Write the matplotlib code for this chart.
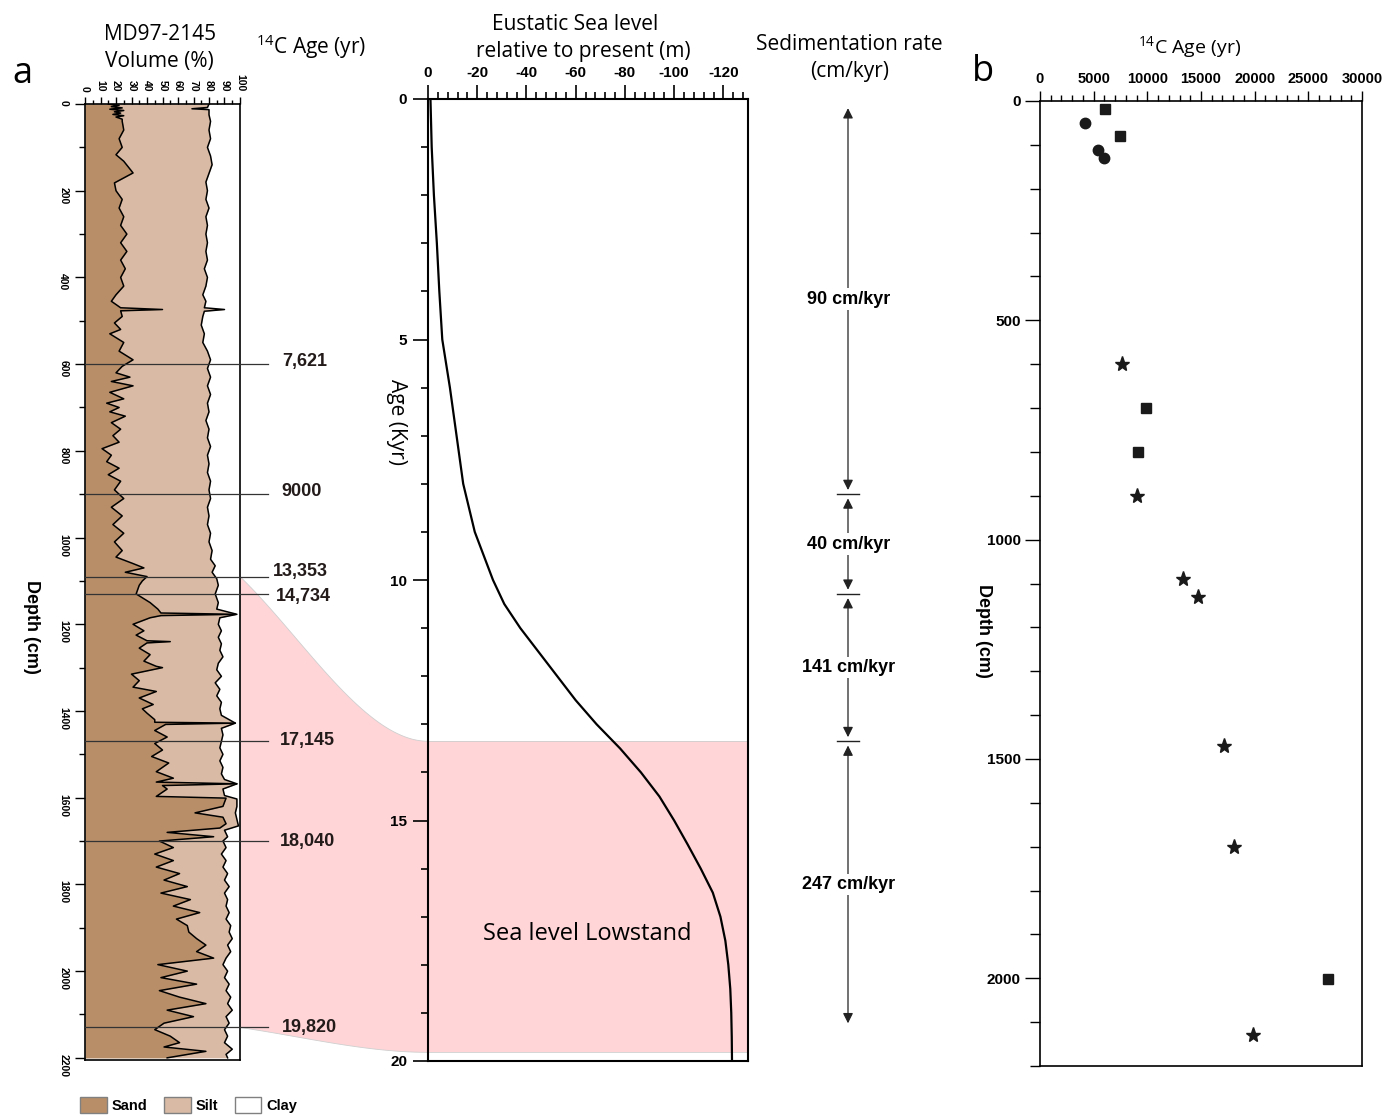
import numpy as np
import matplotlib
matplotlib.use('Agg')
import matplotlib.pyplot as plt
from matplotlib import transforms
from matplotlib.patches import Polygon, Patch
from matplotlib.ticker import MultipleLocator

plt.rcParams['font.family'] = ['Liberation Sans', 'DejaVu Sans']
plt.rcParams['axes.unicode_minus'] = False
plt.rcParams['mathtext.fontset'] = 'custom'
plt.rcParams['mathtext.rm'] = 'Open Sans'

# ---------------- data ----------------
# grain size, core MD97-2145 (cumulative %, depth in cm)
sand_depth = [0, 3, 6, 9, 12, 15, 18, 21, 24, 27,
              30, 35, 40, 60, 80, 100, 117, 132, 159, 182,
              200, 220, 240, 260, 280, 300, 320, 340, 360, 380,
              400, 420, 440, 455, 470, 474, 477, 490, 505, 520,
              530, 550, 570, 590, 605, 620, 630, 640, 650, 665,
              680, 690, 700, 710, 720, 735, 750, 765, 780, 795,
              810, 825, 840, 855, 870, 890, 910, 930, 950, 970,
              990, 1010, 1030, 1045, 1060, 1070, 1080, 1090, 1100, 1110,
              1130, 1150, 1165, 1174, 1177, 1180, 1185, 1200, 1215, 1225,
              1238, 1240, 1243, 1255, 1270, 1285, 1297, 1300, 1303, 1315,
              1330, 1345, 1355, 1370, 1385, 1395, 1405, 1420, 1426, 1428,
              1431, 1445, 1460, 1475, 1490, 1505, 1520, 1540, 1555, 1564,
              1568, 1572, 1580, 1597, 1601, 1620, 1635, 1645, 1660, 1670,
              1680, 1690, 1700, 1715, 1730, 1745, 1760, 1775, 1790, 1805,
              1820, 1835, 1850, 1865, 1880, 1895, 1910, 1925, 1940, 1955,
              1970, 1985, 2000, 2015, 2030, 2045, 2060, 2075, 2090, 2105,
              2120, 2135, 2150, 2165, 2175, 2185, 2200]
sand_pct = [15, 22, 17, 24, 16, 25, 19, 23, 18, 25,
            20, 24, 24, 25, 22, 24, 20, 25, 31, 19,
            20, 24, 22, 25, 23, 27, 23, 27, 23, 26,
            23, 25, 20, 17, 23, 50, 23, 24, 19, 23,
            16, 25, 22, 31, 24, 20, 29, 17, 31, 16,
            25, 14, 22, 16, 26, 17, 23, 18, 22, 11,
            17, 14, 22, 15, 23, 19, 25, 17, 24, 18,
            25, 19, 24, 20, 31, 38, 26, 40, 37, 35,
            33, 42, 47, 49, 97, 49, 42, 31, 38, 33,
            40, 55, 40, 35, 42, 38, 46, 50, 46, 30,
            35, 31, 46, 35, 44, 37, 40, 45, 45, 97,
            52, 45, 53, 45, 50, 43, 54, 46, 57, 46,
            98, 50, 53, 46, 91, 89, 71, 89, 91, 87,
            53, 83, 48, 57, 45, 57, 46, 61, 51, 66,
            49, 68, 57, 74, 59, 66, 67, 72, 78, 72,
            83, 47, 66, 49, 72, 48, 61, 78, 53, 70,
            51, 45, 55, 61, 51, 78, 53]
silt_depth = [0, 8, 11, 13, 25, 40, 60, 80, 100, 120,
              140, 160, 180, 200, 220, 240, 260, 280, 300, 320,
              340, 360, 380, 400, 420, 440, 455, 470, 474, 478,
              490, 510, 530, 550, 570, 590, 610, 630, 650, 670,
              690, 710, 730, 750, 770, 790, 810, 830, 850, 870,
              890, 910, 930, 950, 970, 990, 1010, 1030, 1050, 1065,
              1080, 1095, 1110, 1130, 1150, 1165, 1177, 1185, 1200, 1215,
              1230, 1245, 1260, 1275, 1290, 1305, 1320, 1335, 1350, 1365,
              1380, 1395, 1410, 1428, 1440, 1455, 1470, 1485, 1500, 1515,
              1530, 1545, 1558, 1568, 1580, 1595, 1603, 1620, 1635, 1650,
              1665, 1675, 1690, 1700, 1715, 1730, 1745, 1760, 1775, 1790,
              1805, 1820, 1835, 1850, 1865, 1880, 1895, 1910, 1925, 1940,
              1955, 1970, 1985, 2000, 2015, 2030, 2045, 2060, 2075, 2090,
              2105, 2120, 2135, 2150, 2165, 2180, 2192, 2200]
silt_pct = [80, 79, 69, 80, 80, 81, 80, 81, 79, 81,
            82, 80, 78, 79, 78, 80, 78, 79, 78, 79,
            78, 79, 77, 79, 78, 76, 78, 77, 90, 77,
            76, 75, 77, 76, 79, 81, 79, 81, 79, 81,
            79, 80, 78, 80, 79, 81, 79, 80, 79, 81,
            80, 81, 79, 80, 79, 81, 80, 82, 81, 84,
            82, 85, 86, 84, 86, 85, 98, 87, 86, 88,
            86, 88, 87, 89, 86, 85, 88, 84, 87, 85,
            88, 87, 88, 97, 88, 89, 88, 87, 89, 87,
            89, 88, 90, 98, 89, 90, 98, 98, 97, 98,
            99, 90, 92, 89, 91, 88, 91, 89, 92, 90,
            93, 90, 92, 91, 93, 91, 94, 93, 95, 92,
            94, 91, 89, 92, 90, 93, 91, 94, 92, 95,
            91, 93, 90, 92, 90, 95, 91, 92]

# 14C ages used as tie points (yr) and their depths (cm)
c14_depth = [600, 900, 1090, 1130, 1470, 1700, 2130]
c14_age = [7621, 9000, 13353, 14734, 17145, 18040, 19820]
c14_text = ['7,621', '9000', '13,353', '14,734', '17,145', '18,040', '19,820']

# eustatic sea level (m) versus age (kyr)
sl_age = [0, 1, 2, 3, 4, 5, 6, 7, 8, 9, 10, 10.5, 11, 11.5, 12, 12.5, 13,
          13.5, 14, 14.5, 15, 15.5, 16, 16.5, 17, 17.5, 18, 18.5, 19, 19.5, 20]
sl_m = [-1, -1.5, -2.4, -3.6, -4.6, -5.8, -8.9, -11.6, -14.3, -19, -26.4,
        -31, -37.5, -45, -52.5, -60, -68.5, -78, -86.5, -94, -100, -105.5,
        -110.8, -115.7, -118.8, -120.8, -122, -122.8, -123.2, -123.4, -123.5]
lowstand_age = (13.353, 19.82)
lowstand_depth = (1090, 2130)

# sedimentation rates between depth boundaries (cm)
sed_bounds = [0, 900, 1130, 1470, 2130]
sed_rates = ['90 cm/kyr', '40 cm/kyr', '141 cm/kyr', '247 cm/kyr']

# panel b: 14C ages (yr) vs depth (cm) by sample type
circle_age = [4200, 5400, 5950]
circle_depth = [50, 112, 130]
square_age = [6050, 7450, 9880, 9130, 26830]
square_depth = [18, 80, 700, 800, 2002]

SAND = '#B88E69'
SILT = '#D9BBA5'
PINK = '#FFD5D8'

# ---------------- figure ----------------
W, H = 1395, 1116
fig = plt.figure(figsize=(W / 100, H / 100), dpi=100)


def fx(x):
    return x / W


def fy(y):
    return 1 - y / H


def rect(l, t, r, b):
    return [l / W, 1 - b / H, (r - l) / W, (b - t) / H]


TITLE = dict(family='Open Sans', fontsize=15, ha='center', va='center')

# ---- panel a: grain size ----
ax1 = fig.add_axes(rect(85, 104, 240, 1060))
ax1.fill_betweenx(silt_depth, 0, silt_pct, color=SILT, lw=0, zorder=1)
ax1.fill_betweenx(sand_depth, 0, sand_pct, color=SAND, lw=0, zorder=2)
ax1.plot(silt_pct, silt_depth, color='black', lw=1.1, zorder=3)
ax1.plot(sand_pct, sand_depth, color='black', lw=1.1, zorder=3)
ax1.set_xlim(0, 100)
ax1.set_ylim(2205, 0)
ax1.xaxis.set_major_locator(MultipleLocator(10))
ax1.xaxis.set_minor_locator(MultipleLocator(5))
ax1.yaxis.set_major_locator(MultipleLocator(200))
ax1.yaxis.set_minor_locator(MultipleLocator(100))
ax1.tick_params(axis='x', which='both', top=True, bottom=False,
                labeltop=True, labelbottom=False, direction='out', width=1)
ax1.tick_params(axis='x', which='major', length=5, pad=4, labelsize=7.5,
                labelrotation=270)
ax1.tick_params(axis='x', which='minor', length=3)
ax1.tick_params(axis='y', which='major', length=7, width=1, pad=5,
                labelsize=7.5, labelrotation=270)
ax1.tick_params(axis='y', which='minor', length=4, width=1)
for lab in ax1.get_xticklabels() + ax1.get_yticklabels():
    lab.set_fontweight('bold')
for s in ax1.spines.values():
    s.set_linewidth(1.2)
ax1.set_ylabel('Depth (cm)', rotation=270, fontsize=13, fontweight='bold')
ax1.yaxis.set_label_coords(-0.342, 0.453)
ax1.yaxis.label.set_va('center')

blend1 = transforms.blended_transform_factory(ax1.transAxes, ax1.transData)
lab_dx = [2, 1, -7, -4, 0, 0, 2]
lab_dy = [-3, -3, -5, 3, -1, 0, 0]
for d, t, dx, dy in zip(c14_depth, c14_text, lab_dx, lab_dy):
    ax1.plot([0, 1.181], [d, d], transform=blend1, color='#333333', lw=0.9,
             clip_on=False, zorder=4)
    tr = transforms.offset_copy(blend1, fig=fig, x=dx * 0.72, y=-dy * 0.72,
                                units='points')
    ax1.text(1.258, d, t, transform=tr, fontsize=13, fontweight='bold',
             ha='left', va='center', color='#231a1a')

fig.text(fx(160), fy(34), 'MD97-2145', **TITLE)
fig.text(fx(159), fy(62), 'Volume (%)', **TITLE)
fig.text(fx(311), fy(47), r'$\mathregular{^{14}}$C Age (yr)', **TITLE)
fig.text(fx(12), fy(83), 'a', family='Open Sans', fontsize=26, va='baseline')

leg_handles = [Patch(fc=SAND, ec='#808080', lw=1),
               Patch(fc=SILT, ec='#808080', lw=1),
               Patch(fc='white', ec='#808080', lw=1)]
fig.legend(leg_handles, ['Sand', 'Silt', 'Clay'], loc='upper left',
           bbox_to_anchor=(fx(80), fy(1097)), ncol=3, frameon=False,
           prop=dict(family='Liberation Sans', weight='bold', size=10.5),
           handlelength=1.85, handleheight=1.3, handletextpad=0.35,
           columnspacing=1.1, borderaxespad=0, borderpad=0)

# ---- middle: eustatic sea level ----
ax2 = fig.add_axes(rect(428, 99, 748, 1061))
ax2.axhspan(lowstand_age[0], lowstand_age[1], color=PINK, lw=0, zorder=0)
for a in lowstand_age:
    ax2.axhline(a, color='#cfcfcf', lw=0.6, zorder=0.5)
ax2.plot(sl_m, sl_age, color='black', lw=1.6, zorder=2)
ax2.set_xlim(0, -130)
ax2.set_ylim(20, 0)
ax2.xaxis.set_major_locator(MultipleLocator(20))
ax2.xaxis.set_minor_locator(MultipleLocator(4))
ax2.yaxis.set_major_locator(MultipleLocator(5))
ax2.yaxis.set_minor_locator(MultipleLocator(1))
ax2.tick_params(axis='x', which='both', top=True, bottom=False,
                labeltop=True, labelbottom=False, direction='out', width=1.2)
ax2.tick_params(axis='x', which='major', length=10, pad=4, labelsize=11)
ax2.tick_params(axis='x', which='minor', length=5)
ax2.tick_params(axis='y', which='major', length=11, width=1.2, pad=4,
                labelsize=11)
ax2.tick_params(axis='y', which='minor', length=5, width=1.2)
for lab in ax2.get_xticklabels() + ax2.get_yticklabels():
    lab.set_fontweight('bold')
for s in ax2.spines.values():
    s.set_linewidth(1.5)
ax2.set_ylabel('Age (Kyr)', rotation=270, family='Open Sans', fontsize=15)
ax2.yaxis.set_label_coords(-0.097, 0.664)
ax2.yaxis.label.set_va('center')
ax2.text(0.497, 0.132, 'Sea level Lowstand', transform=ax2.transAxes,
         family='Open Sans', fontsize=17, ha='center', va='center')

fig.text(fx(575), fy(24), 'Eustatic Sea level', **TITLE)
fig.text(fx(583), fy(51), 'relative to present (m)', **TITLE)
fig.text(fx(849), fy(45), 'Sedimentation rate', **TITLE)
fig.text(fx(850), fy(72), '(cm/kyr)', **TITLE)

# ---- sedimentation rate arrows (depth scale of panel a) ----
blendF = transforms.blended_transform_factory(fig.transFigure, ax1.transData)
xs_arrow = fx(848)
for d0, d1, txt in zip(sed_bounds[:-1], sed_bounds[1:], sed_rates):
    ax1.annotate('', xy=(xs_arrow, d1), xytext=(xs_arrow, d0),
                 xycoords=blendF, textcoords=blendF, annotation_clip=False,
                 arrowprops=dict(arrowstyle='<|-|>', mutation_scale=15,
                                 lw=0.9, color='#222222',
                                 shrinkA=3, shrinkB=3))
    ax1.text(fx(849), 0.5 * (d0 + d1), txt, transform=blendF, fontsize=13,
             fontweight='bold', ha='center', va='center', clip_on=False,
             bbox=dict(fc='white', ec='none', pad=1.5))
for d in sed_bounds[1:-1]:
    ax1.plot([fx(837), fx(859)], [d, d], transform=blendF, color='#222222',
             lw=1.0, clip_on=False)

# ---- pink lowstand connector ----
to_fig = fig.transFigure.inverted()


def connector_edge(depth, age):
    p0 = ax1.transData.transform((ax1.get_xlim()[1], depth))
    p1 = ax2.transData.transform((ax2.get_xlim()[0], age))
    t = np.linspace(0, 1, 80)
    f = 1.1 * t + 0.8 * t ** 2 - 0.9 * t ** 3
    return np.column_stack([p0[0] + t * (p1[0] - p0[0]),
                            p0[1] + f * (p1[1] - p0[1])])


top_edge = connector_edge(lowstand_depth[0], lowstand_age[0])
bot_edge = connector_edge(lowstand_depth[1], lowstand_age[1])
verts = to_fig.transform(np.vstack([top_edge, bot_edge[::-1]]))
fig.add_artist(Polygon(verts, closed=True, transform=fig.transFigure,
                       fc=PINK, ec='#cfcfcf', lw=0.6, zorder=-1))

# ---- panel b: age-depth ----
ax3 = fig.add_axes(rect(1040, 101, 1362, 1066))
ax3.plot(circle_age, circle_depth, 'o', color='#1a1a1a', ms=7.5, ls='none')
ax3.plot(square_age, square_depth, 's', color='#1a1a1a', ms=6.5, ls='none')
ax3.plot(c14_age, c14_depth, '*', color='#1a1a1a', ms=11, ls='none')
ax3.set_xlim(0, 30000)
ax3.set_ylim(2200, 0)
ax3.xaxis.set_major_locator(MultipleLocator(5000))
ax3.xaxis.set_minor_locator(MultipleLocator(1000))
ax3.yaxis.set_major_locator(MultipleLocator(500))
ax3.yaxis.set_minor_locator(MultipleLocator(100))
ax3.tick_params(axis='x', which='both', top=True, bottom=False,
                labeltop=True, labelbottom=False, direction='out', width=1)
ax3.tick_params(axis='x', which='major', length=7, pad=4, labelsize=10.5)
ax3.tick_params(axis='x', which='minor', length=4)
ax3.tick_params(axis='y', which='major', length=11, width=1, pad=3,
                labelsize=11)
ax3.tick_params(axis='y', which='minor', length=7, width=1)
for lab in ax3.get_xticklabels() + ax3.get_yticklabels():
    lab.set_fontweight('bold')
for s in ax3.spines.values():
    s.set_linewidth(1.2)
ax3.set_ylabel('Depth (cm)', rotation=270, fontsize=13, fontweight='bold')
ax3.yaxis.set_label_coords(-0.177, 0.451)
ax3.yaxis.label.set_va('center')

fig.text(fx(1190), fy(47), r'$\mathregular{^{14}}$C Age (yr)',
         family='Open Sans', fontsize=14, ha='center', va='center')
fig.text(fx(972), fy(81), 'b', family='Open Sans', fontsize=26, va='baseline')

fig.savefig('out.png', dpi=100)
